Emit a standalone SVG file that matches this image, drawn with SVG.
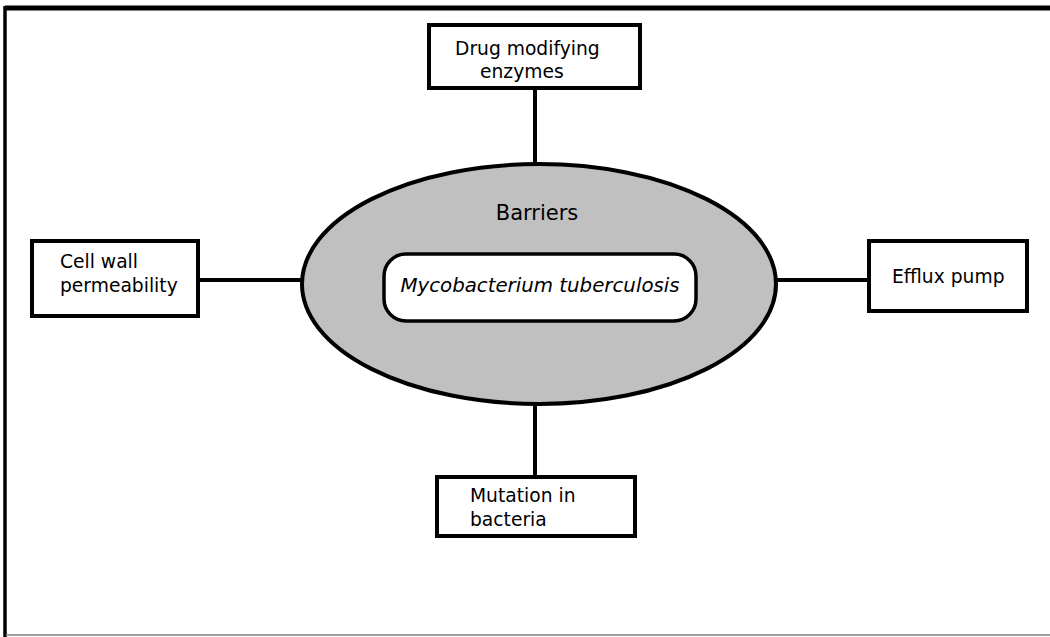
<svg xmlns="http://www.w3.org/2000/svg" width="1050" height="637" viewBox="0 0 1050 637">
<style>
.box{fill:#fff;stroke:#000;stroke-width:4}
.lbl{font-family:"DejaVu Sans",Verdana,sans-serif;font-size:18.7px;fill:#000}
.ln{stroke:#000;stroke-width:4;fill:none}
</style>
<rect width="1050" height="637" fill="#fff"/>
<g id="frame">
<line x1="5" y1="8" x2="1050" y2="8" stroke="#000" stroke-width="5"/>
<line x1="5" y1="6" x2="5" y2="637" stroke="#000" stroke-width="3.5"/>
<line x1="6" y1="635" x2="1050" y2="635" stroke="#808080" stroke-width="1.5"/>
</g>
<g id="connectors">
<line class="ln" x1="535" y1="88" x2="535" y2="164"/>
<line class="ln" x1="535" y1="404" x2="535" y2="477"/>
<line class="ln" x1="198" y1="280" x2="302" y2="280"/>
<line class="ln" x1="776" y1="280" x2="869" y2="280"/>
</g>
<g id="barriers">
<ellipse cx="539" cy="284" rx="237" ry="120" fill="#c0c0c0" stroke="#000" stroke-width="4"/>
<text class="lbl" x="537" y="220" text-anchor="middle" style="font-size:21px">Barriers</text>
</g>
<g id="mtb">
<rect x="384" y="254" width="312" height="67" rx="22" ry="22" fill="#fff" stroke="#000" stroke-width="3.5"/>
<text class="lbl" x="540" y="292" text-anchor="middle" font-style="italic" style="font-size:19.8px">Mycobacterium tuberculosis</text>
</g>
<g id="drug">
<rect class="box" x="429" y="25" width="211" height="63"/>
<text class="lbl" x="455" y="55">Drug modifying</text>
<text class="lbl" x="480" y="78">enzymes</text>
</g>
<g id="cellwall">
<rect class="box" x="32" y="241" width="166" height="75"/>
<text class="lbl" x="60" y="268">Cell wall</text>
<text class="lbl" x="60" y="292">permeability</text>
</g>
<g id="efflux">
<rect class="box" x="869" y="241" width="158" height="70"/>
<text class="lbl" x="892" y="283">Efflux pump</text>
</g>
<g id="mutation">
<rect class="box" x="437" y="477" width="198" height="59"/>
<text class="lbl" x="470" y="502">Mutation in</text>
<text class="lbl" x="470" y="526">bacteria</text>
</g>
</svg>
